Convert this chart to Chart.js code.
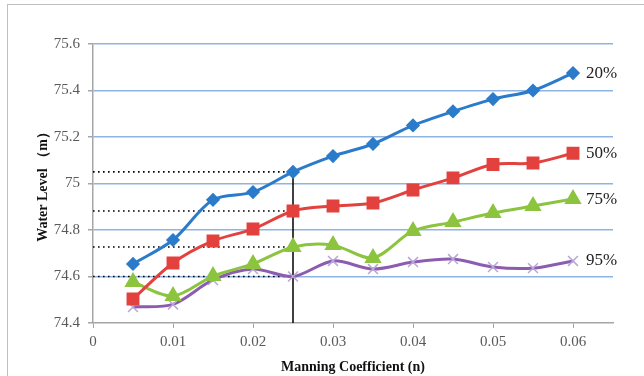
<!DOCTYPE html>
<html lang="en">
<head>
<meta charset="UTF-8">
<title>Water Level vs Manning Coefficient</title>
<script src="https://cdn.jsdelivr.net/npm/chart.js"></script>
<style>
    body {
        margin: 0;
        padding: 0;
        background: #fff;
    }
    .wrap {
        position: relative;
        width: 644px;
        height: 376px;
    }
    .frame {
        position: absolute;
        left: 7px;
        top: 4px;
        right: 0;
        bottom: 0;
        border-left: 1px solid #bfbfbf;
        border-top: 1px solid #bfbfbf;
    }
    canvas {
        position: absolute;
        left: 0;
        top: 0;
    }
</style>
</head>
<body>
<div class="wrap">
    <div class="frame"></div>
    <canvas id="chart" width="644" height="376"></canvas>
</div>
<script>
    // data
    const manning = [0.005, 0.01, 0.015, 0.02, 0.025, 0.03, 0.035, 0.04, 0.045, 0.05, 0.055, 0.06];
    const level20 = [74.654, 74.757, 74.93, 74.963, 75.05, 75.118, 75.17, 75.25, 75.31, 75.363, 75.40, 75.475];
    const level50 = [74.503, 74.658, 74.753, 74.804, 74.882, 74.903, 74.916, 74.972, 75.024, 75.082, 75.088, 75.13];
    const level75 = [74.576, 74.516, 74.602, 74.654, 74.727, 74.735, 74.68, 74.796, 74.834, 74.873, 74.903, 74.933];
    const level95 = [74.469, 74.48, 74.585, 74.632, 74.60, 74.667, 74.632, 74.662, 74.675, 74.641, 74.636, 74.667];
    const seriesNames = ['20%', '50%', '75%', '95%'];
    const xTicks = [0, 0.01, 0.02, 0.03, 0.04, 0.05, 0.06];
    const yTicks = [74.4, 74.6, 74.8, 75, 75.2, 75.4, 75.6];
    const refIndex = 4; // n = 0.025 marked with guide lines

    const serif = "'Liberation Serif', 'Times New Roman', serif";
    const colors = ['#2b7bcb', '#e2413e', '#8cc43f', '#8b5cb0'];
    const allLevels = [level20, level50, level75, level95];

    function pts(vals) {
        return vals.map((v, i) => ({ x: manning[i], y: v }));
    }

    const seriesSets = [
        { label: seriesNames[0], data: pts(level20), borderColor: colors[0], backgroundColor: colors[0],
          pointStyle: 'rectRot', pointRadius: 5 },
        { label: seriesNames[1], data: pts(level50), borderColor: colors[1], backgroundColor: colors[1],
          pointStyle: 'rect', pointRadius: 7 },
        { label: seriesNames[2], data: pts(level75), borderColor: colors[2], backgroundColor: colors[2],
          pointStyle: 'triangle', pointRadius: 7 },
        { label: seriesNames[3], data: pts(level95), borderColor: colors[3], backgroundColor: '#b9a6d6',
          pointBorderColor: '#b9a6d6', pointStyle: 'crossRot', pointRadius: 7, pointBorderWidth: 1.5 }
    ].map(d => Object.assign({ borderWidth: 3, tension: 0.3, order: 1 }, d));

    // dotted guides from the y axis to n = 0.025, plus vertical line
    const refX = manning[refIndex];
    const guideSets = allLevels.map(vals => ({
        label: 'guide',
        data: [{ x: 0, y: vals[refIndex] }, { x: refX, y: vals[refIndex] }],
        borderColor: '#000',
        borderWidth: 1.6,
        borderDash: [1.6, 3.4],
        pointRadius: 0,
        order: 3
    }));
    guideSets.push({
        label: 'guide',
        data: [{ x: refX, y: yTicks[0] }, { x: refX, y: level20[refIndex] }],
        borderColor: '#000',
        borderWidth: 1.5,
        pointRadius: 0,
        order: 2
    });

    // series names at the end of each line
    const endLabels = {
        id: 'endLabels',
        afterDatasetsDraw(chart) {
            const ctx = chart.ctx;
            ctx.save();
            ctx.font = '17px ' + serif;
            ctx.fillStyle = '#222';
            ctx.textBaseline = 'middle';
            seriesSets.forEach((s, i) => {
                const meta = chart.getDatasetMeta(i);
                const p = meta.data[meta.data.length - 1];
                ctx.fillText(s.label, p.x + 13, p.y);
            });
            ctx.restore();
        }
    };

    new Chart(document.getElementById('chart'), {
        type: 'line',
        data: { datasets: seriesSets.concat(guideSets) },
        options: {
            responsive: false,
            animation: false,
            layout: { padding: { left: 0, right: 31, top: 44, bottom: 0 } },
            plugins: {
                legend: { display: false },
                tooltip: { enabled: false }
            },
            scales: {
                x: {
                    type: 'linear',
                    min: 0,
                    max: 0.065,
                    afterBuildTicks: s => { s.ticks = xTicks.map(v => ({ value: v })); },
                    afterFit: s => { s.height = 53; },
                    ticks: {
                        color: '#595959',
                        font: { family: serif, size: 15 },
                        padding: 5,
                        maxRotation: 0,
                        callback: v => String(v)
                    },
                    grid: { drawOnChartArea: false, drawTicks: true, tickLength: 5, color: '#a6a6a6' },
                    border: { color: '#a6a6a6', width: 1.5 },
                    title: {
                        display: true,
                        text: 'Manning Coefficient (n)',
                        color: '#111',
                        font: { family: serif, size: 14, weight: 'bold' },
                        padding: { top: 0, bottom: 0 }
                    }
                },
                y: {
                    min: 74.4,
                    max: 75.6,
                    afterBuildTicks: s => { s.ticks = yTicks.map(v => ({ value: v })); },
                    afterFit: s => { s.width = 93; },
                    ticks: {
                        color: '#595959',
                        font: { family: serif, size: 15 },
                        padding: 8,
                        callback: v => String(+v.toFixed(1))
                    },
                    grid: {
                        color: c => (c.tick && c.tick.value === yTicks[0]) ? 'rgba(0,0,0,0)' : '#8db4e2',
                        tickColor: '#a6a6a6',
                        lineWidth: 1.5,
                        tickLength: 5
                    },
                    border: { color: '#a6a6a6', width: 1.5 },
                    title: {
                        display: true,
                        text: 'Water Level （m）',
                        color: '#111',
                        font: { family: serif, size: 14, weight: 'bold' },
                        padding: { top: 35, bottom: 4 }
                    }
                }
            }
        },
        plugins: [endLabels]
    });
</script>
</body>
</html>
